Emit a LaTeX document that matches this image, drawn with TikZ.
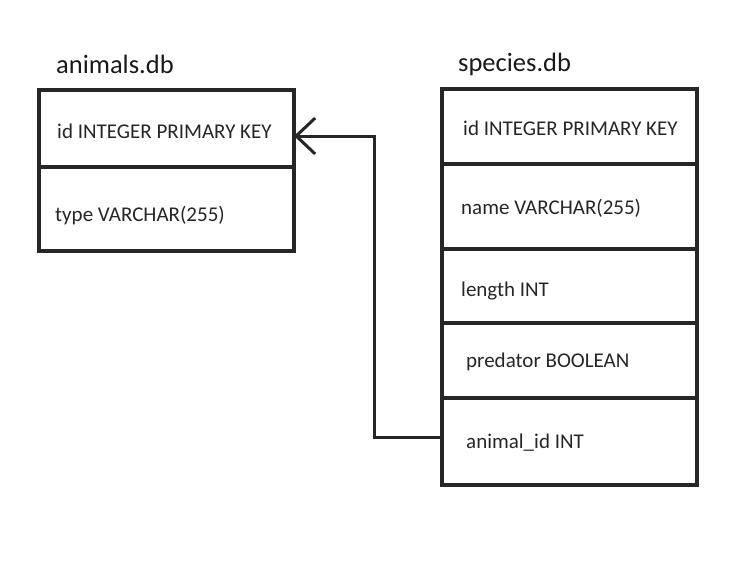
\documentclass[tikz,border=0pt]{standalone}
\usepackage{fontspec}
\setmainfont{Carlito}
\usetikzlibrary{arrows.meta}
\begin{document}
\begin{tikzpicture}[x=1pt,y=-1pt,
  row/.style={draw=black!85, line width=3.5pt, minimum width=255pt, anchor=north west, inner sep=0pt, outer sep=0pt},
  field/.style={anchor=west, inner sep=0pt, font=\fontsize{21}{24}\selectfont, text=black!85},
  title/.style={anchor=west, inner sep=0pt, font=\fontsize{26.5}{30}\selectfont, text=black!90},
  link/.style={draw=black!85, line width=3pt}
]
\useasboundingbox (0,0) rectangle (754,579);
% animals.db
\node[title] (atitle) at (56,64) {animals.db};
\node[row, minimum height=77pt] (a1) at (39,90) {};
\node[row, minimum height=84pt] (a2) at (39,167) {};
\node[field] (a1t) at (57,131) {id INTEGER PRIMARY KEY};
\node[field] (a2t) at (55,216) {type VARCHAR(255)};
% species.db
\node[title] (stitle) at (458,64) {species.db};
\node[row, minimum height=75pt] (s1) at (442,89) {};
\node[row, minimum height=85pt] (s2) at (442,164) {};
\node[row, minimum height=74pt] (s3) at (442,249) {};
\node[row, minimum height=75pt] (s4) at (442,323) {};
\node[row, minimum height=87pt] (s5) at (442,398) {};
\node[field] (s1t) at (463,128) {id INTEGER PRIMARY KEY};
\node[field] (s2t) at (461,208) {name VARCHAR(255)};
\node[field] (s3t) at (461,291) {length INT};
\node[field] (s4t) at (466,362) {predator BOOLEAN};
\node[field] (s5t) at (466,443) {animal\_id INT};
% connector
\coordinate (bend1) at (374,437);
\coordinate (bend2) at (374,136);
\draw[link, -{Straight Barb[length=19pt,width=36pt,line width=3pt]}]
  (s5.west |- bend1) -- (bend1) -- (bend2) -- (a1.east |- bend2);
\end{tikzpicture}
\end{document}
